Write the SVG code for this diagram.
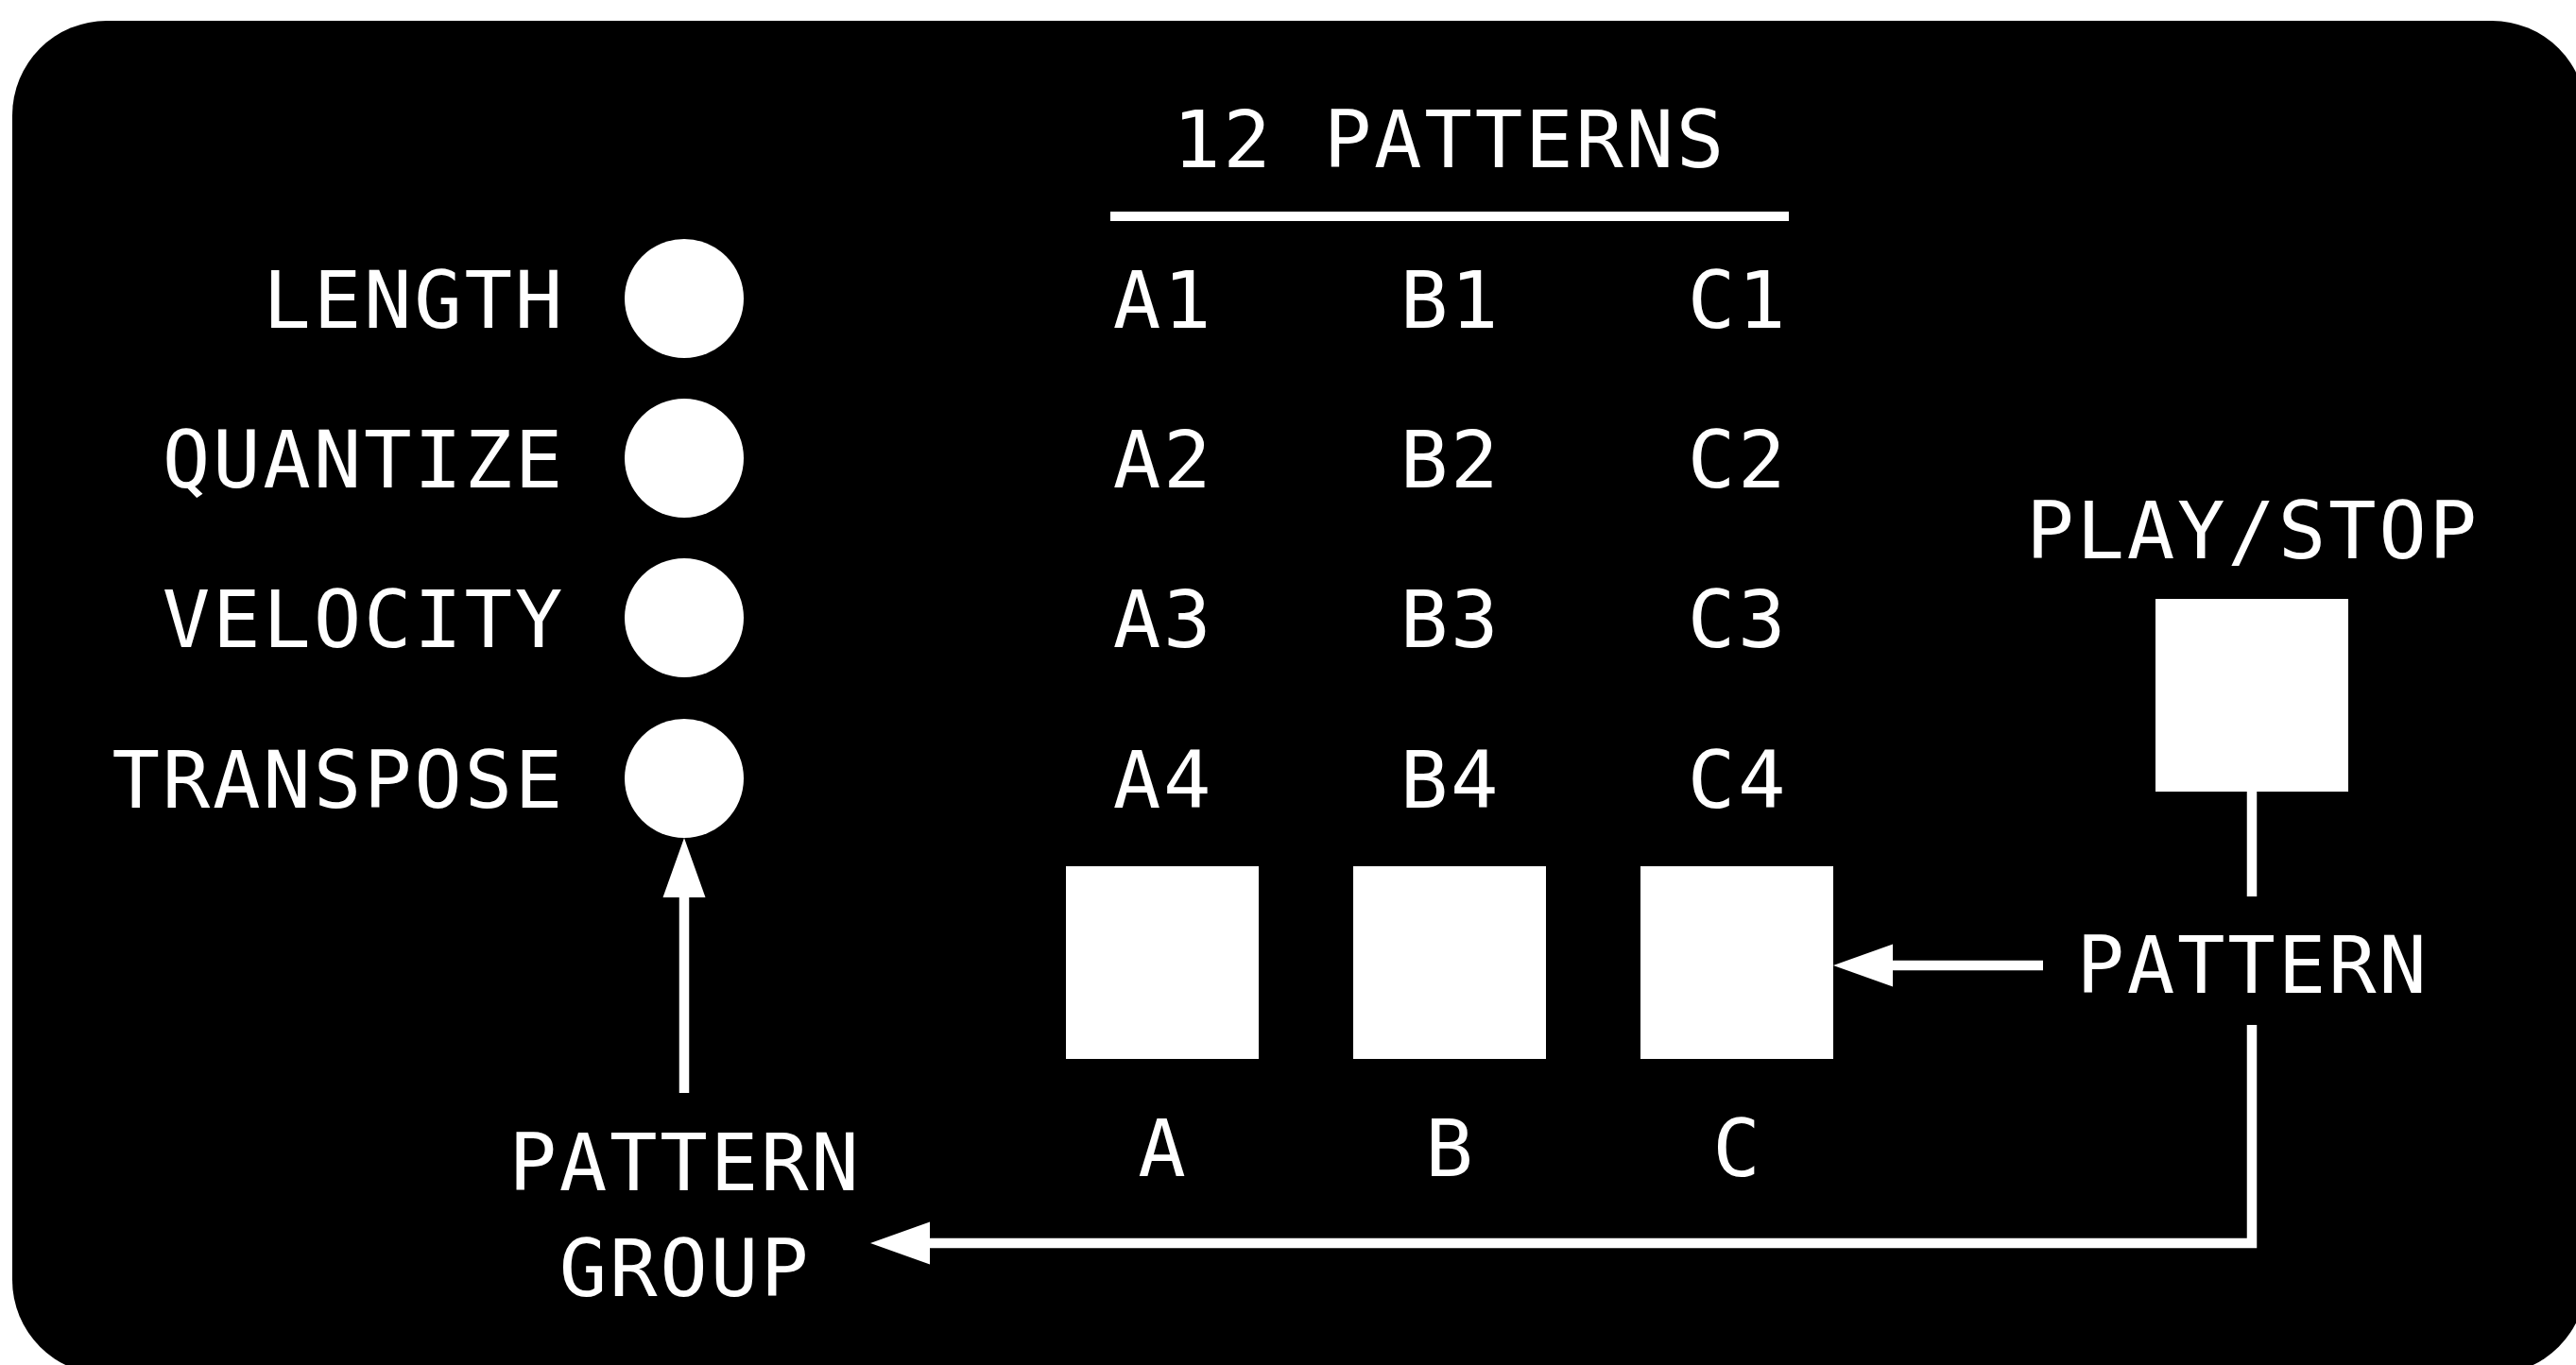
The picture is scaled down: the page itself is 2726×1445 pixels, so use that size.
<svg xmlns="http://www.w3.org/2000/svg" width="2726" height="1445" viewBox="0 0 2726 1445">
  <style>
    .lbl { font-family: "DejaVu Sans Mono", "Liberation Mono", monospace; font-size: 84px; fill: #fff; letter-spacing: 2.7px; }
    .end { text-anchor: end; }
    .mid { text-anchor: middle; }
    .knob { fill: #fff; }
    .pad { fill: #fff; }
    .wire { fill: none; stroke: #fff; stroke-width: 10.5; stroke-linejoin: miter; stroke-linecap: butt; }
  </style>
  <defs>
    <marker id="head" markerUnits="userSpaceOnUse" markerWidth="64" markerHeight="46" viewBox="0 -23 64 46" refX="0" refY="0" orient="auto">
      <path d="M0,-22.5 L63,0 L0,22.5 Z" fill="#fff"/>
    </marker>
  </defs>

  <!-- panel -->
  <rect id="panel" x="13" y="22" width="2724" height="1433" rx="100" ry="100" fill="#000"/>

  <!-- parameter knobs -->
  <g id="knob-length">
    <text class="lbl end" x="598" y="347">LENGTH</text>
    <circle class="knob" cx="724" cy="316" r="63"/>
  </g>
  <g id="knob-quantize">
    <text class="lbl end" x="598" y="516">QUANTIZE</text>
    <circle class="knob" cx="724" cy="485" r="63"/>
  </g>
  <g id="knob-velocity">
    <text class="lbl end" x="598" y="685">VELOCITY</text>
    <circle class="knob" cx="724" cy="654" r="63"/>
  </g>
  <g id="knob-transpose">
    <text class="lbl end" x="598" y="855">TRANSPOSE</text>
    <circle class="knob" cx="724" cy="824" r="63"/>
  </g>

  <!-- pattern grid header -->
  <g id="patterns-header">
    <text class="lbl mid" x="1534" y="177">12 PATTERNS</text>
    <rect x="1175" y="224" width="718" height="10" fill="#fff"/>
  </g>

  <!-- pattern names -->
  <g id="pattern-names">
    <text class="lbl mid" x="1231" y="347">A1</text>
    <text class="lbl mid" x="1535" y="347">B1</text>
    <text class="lbl mid" x="1839" y="347">C1</text>
    <text class="lbl mid" x="1231" y="516">A2</text>
    <text class="lbl mid" x="1535" y="516">B2</text>
    <text class="lbl mid" x="1839" y="516">C2</text>
    <text class="lbl mid" x="1231" y="685">A3</text>
    <text class="lbl mid" x="1535" y="685">B3</text>
    <text class="lbl mid" x="1839" y="685">C3</text>
    <text class="lbl mid" x="1231" y="855">A4</text>
    <text class="lbl mid" x="1535" y="855">B4</text>
    <text class="lbl mid" x="1839" y="855">C4</text>
  </g>

  <!-- group pads -->
  <g id="pad-a">
    <rect class="pad" x="1128" y="917" width="204" height="204"/>
    <text class="lbl mid" x="1231" y="1245">A</text>
  </g>
  <g id="pad-b">
    <rect class="pad" x="1432" y="917" width="204" height="204"/>
    <text class="lbl mid" x="1535" y="1245">B</text>
  </g>
  <g id="pad-c">
    <rect class="pad" x="1736" y="917" width="204" height="204"/>
    <text class="lbl mid" x="1839" y="1245">C</text>
  </g>

  <!-- transport -->
  <g id="play-stop">
    <text class="lbl mid" x="2384" y="591">PLAY/STOP</text>
    <rect class="pad" x="2281" y="634" width="204" height="204"/>
  </g>

  <g id="pattern-key">
    <text class="lbl mid" x="2384" y="1051">PATTERN</text>
  </g>

  <g id="pattern-group-key">
    <text class="lbl mid" x="725" y="1260">PATTERN</text>
    <text class="lbl mid" x="725" y="1372">GROUP</text>
  </g>

  <!-- connectors -->
  <g id="connectors">
    <path class="wire" d="M724,1157 V950" marker-end="url(#head)"/>
    <path class="wire" d="M2162,1022 H2003" marker-end="url(#head)"/>
    <path class="wire" d="M2383,838 V949"/>
    <path class="wire" d="M2383,1085 V1316 H984" marker-end="url(#head)"/>
  </g>
</svg>
